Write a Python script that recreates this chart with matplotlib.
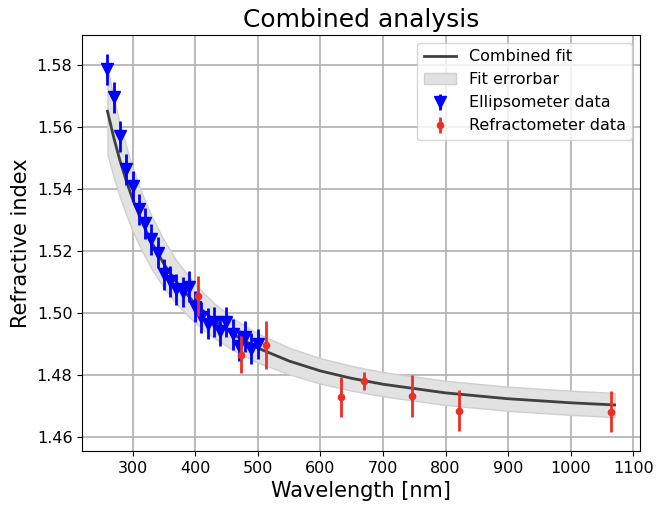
import matplotlib
matplotlib.use("Agg")
import matplotlib.pyplot as plt

# ellipsometer data
ell_wl = [260, 270, 280, 290, 300, 310, 320, 330, 340, 350, 360, 370, 380,
          390, 400, 410, 420, 430, 440, 450, 460, 470, 480, 490, 500]
ell_n = [1.5787, 1.5697, 1.5571, 1.5465, 1.5410, 1.5335, 1.5290, 1.5239,
         1.5195, 1.5126, 1.5103, 1.5077, 1.5068, 1.5085, 1.5021, 1.4987,
         1.4965, 1.4971, 1.4942, 1.4971, 1.4932, 1.4894, 1.4923, 1.4884,
         1.4900]
ell_err = [0.005] * len(ell_wl)

# refractometer data
ref_wl = [405, 473, 514, 633, 670, 746, 822, 1064]
ref_n = [1.5055, 1.4865, 1.4897, 1.4729, 1.4781, 1.4732, 1.4684, 1.4681]
ref_err = [0.0065, 0.006, 0.0078, 0.0065, 0.003, 0.0068, 0.0066, 0.0066]

# combined fit curve and its error band
fit_wl = [260, 270, 280, 290, 300, 315, 330, 350, 370, 400, 430, 460, 500,
          550, 600, 650, 700, 800, 900, 1000, 1070]
fit_n = [1.5652, 1.5567, 1.5492, 1.5427, 1.5369, 1.5294, 1.5230, 1.5159,
         1.5100, 1.5030, 1.4976, 1.4932, 1.4887, 1.4845, 1.4813, 1.4789,
         1.4770, 1.4742, 1.4723, 1.4710, 1.4703]
fit_half = [0.014, 0.0128, 0.0118, 0.011, 0.0102, 0.0093, 0.0085, 0.0077,
            0.007, 0.0062, 0.0056, 0.0051, 0.0047, 0.0043, 0.0041, 0.004,
            0.0039, 0.0039, 0.0039, 0.0039, 0.0039]
fit_lo = [n - h for n, h in zip(fit_n, fit_half)]
fit_hi = [n + h for n, h in zip(fit_n, fit_half)]

fig, ax = plt.subplots(figsize=(6.57, 5.08), dpi=100)
fig.subplots_adjust(left=0.125, right=0.974, top=0.931, bottom=0.112)

ax.plot(fit_wl, fit_n, color="#404040", lw=2, label="Combined fit", zorder=3)
ax.fill_between(fit_wl, fit_lo, fit_hi, facecolor="#e2e2e2",
                edgecolor="#cfcfcf", lw=1, label="Fit errorbar", zorder=2)
ax.errorbar(ell_wl, ell_n, yerr=ell_err, fmt="v", color="blue", ms=9,
            elinewidth=2, label="Ellipsometer data", zorder=4)
ax.errorbar(ref_wl, ref_n, yerr=ref_err, fmt="o", color="#ec2e24", ms=4.5,
            elinewidth=2, label="Refractometer data", zorder=5)

ax.set_xticks(range(300, 1101, 100))
ax.set_yticks([1.46, 1.48, 1.50, 1.52, 1.54, 1.56, 1.58])
ax.tick_params(labelsize=11.5)
ax.grid(True, color="#b0b0b0", lw=1.2)
ax.set_axisbelow(True)
ax.set_xlabel("Wavelength [nm]", fontsize=15)
ax.set_ylabel("Refractive index", fontsize=15)
ax.set_title("Combined analysis", fontsize=18)
ax.legend(fontsize=11.5, loc="upper right")

fig.savefig("out.png")
